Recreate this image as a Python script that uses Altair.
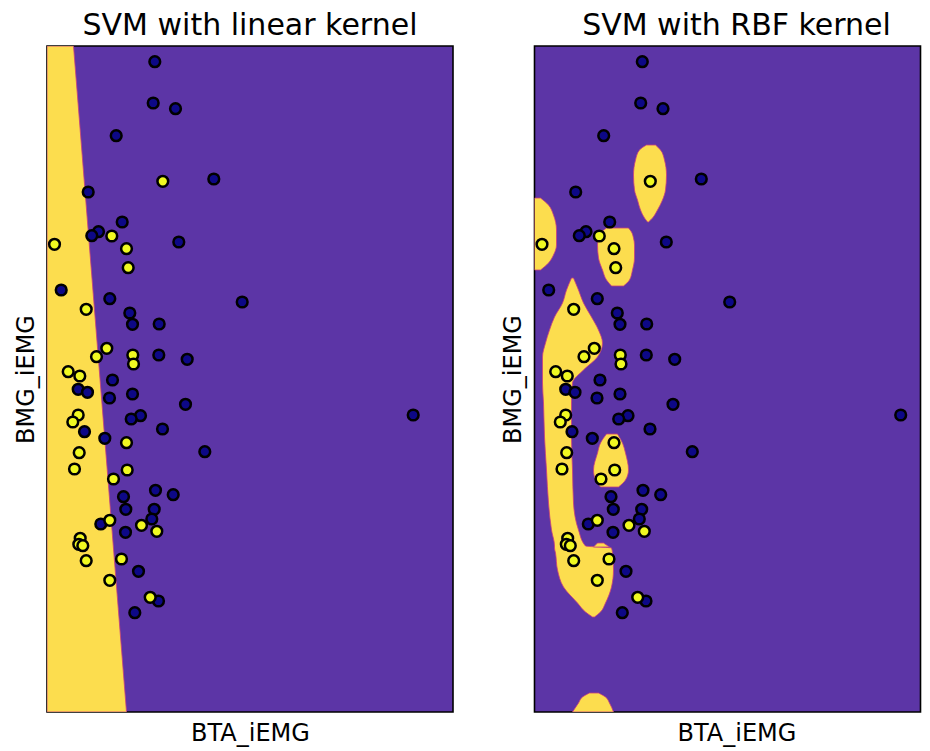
import altair as alt
import pandas as pd

# ---------------- data (units) ----------------
X_MAX_LEFT = 406      # BTA_iEMG range shown in the left panel
X_MAX_RIGHT = 386     # BTA_iEMG range visible in the (cropped) right panel
Y_MAX = 666           # BMG_iEMG range

# class 0 samples (dark)
NAVY_X = [107.8, 106.2, 128.5, 69.2, 166.8, 41.2, 75.2, 51.5, 44.8, 131.8, 14.2,
          62.8, 195.2, 82.8, 85.5, 112.2, 111.8, 140.2, 65.5, 31.2, 40.5, 62.5,
          85.5, 138.5, 93.5, 84.2, 37.5, 115.5, 57.8, 157.8, 108.5, 126.2, 76.5,
          78.8, 107.2, 104.8, 53.8, 78.5, 91.5, 111.5, 87.8, 366.2]
NAVY_Y = [650.3, 609, 603.3, 576.3, 533, 520, 490, 480.3, 476.3, 470, 422,
          413.3, 410, 399, 387.7, 388, 357, 352.7, 332, 322.7, 319.7, 314,
          318, 307.7, 296.3, 293, 280.3, 283, 273.7, 260.3, 221.7, 217.3, 215.3,
          202.7, 202.7, 193, 188, 179.7, 140.7, 111, 99.3, 297]

# class 1 samples (yellow)
YELLOW_X = [115.8, 7.5, 64.8, 79.5, 81.2, 39.2, 59.8, 49.5, 85.8, 86.5, 21.2,
            32.8, 31.2, 25.8, 79.5, 32.2, 27.5, 80.2, 66.5, 62.8, 94.5, 109.8,
            33.2, 31.8, 35.8, 74.5, 39.2, 62.8, 103.2]
YELLOW_Y = [530.7, 467.7, 476, 463.3, 444.3, 402.7, 363.7, 355.3, 357, 348, 340.3,
            336, 297, 290, 269.3, 259.3, 243, 242, 233, 191.7, 186.7, 180.7,
            173.7, 167.7, 166.3, 153, 151.3, 131.7, 114.7]

# linear-kernel decision region (class 1 side): y, left x, right x
LINEAR_Y = [0, 666]
LINEAR_XL = [0, 0]
LINEAR_XR = [79.5, 26.5]

# RBF-kernel decision regions (class 1 blobs): y, left x, right x
BLOB_A_Y = [567, 562, 552, 537, 522, 512, 502, 494, 490]
BLOB_A_XL = [112, 105, 101, 99, 100, 103, 106, 110, 113]
BLOB_A_XR = [121, 126, 130, 132, 131, 128, 123, 118, 114]

BLOB_B_Y = [514, 507, 497, 482, 467, 457, 449, 442]
BLOB_B_XL = [0, 0, 0, 0, 0, 0, 0, 0]
BLOB_B_XR = [6, 14, 19, 22, 22, 19, 14, 6]

BLOB_C_Y = [484, 480, 474, 467, 454, 442, 432, 426]
BLOB_C_XL = [72, 67, 64, 63, 64, 68, 72, 77]
BLOB_C_XR = [94, 97, 99, 100, 100, 98, 95, 89]

BLOB_D_Y = [434, 422, 409, 395, 382, 369, 355, 342, 329, 309, 275, 242, 209,
            182, 166, 164, 159, 142, 125, 109, 100, 95]
BLOB_D_XL = [37, 32, 28, 20, 15, 11, 8, 8, 8, 9, 10, 12, 14, 17, 20, 20, 21,
             23, 29, 43, 51, 58]
BLOB_D_XR = [39, 44, 49, 57, 64, 68, 63, 49, 38, 37, 37, 38, 39, 44, 51, 77,
             78, 79, 77, 71, 66, 60]

BLOB_D2_Y = [169, 165]
BLOB_D2_XL = [63, 59]
BLOB_D2_XR = [69, 75]

BLOB_E_Y = [278, 269, 259, 242, 232, 225]
BLOB_E_XL = [72, 66, 63, 59, 61, 66]
BLOB_E_XR = [83, 88, 91, 94, 91, 84]

BLOB_F_Y = [19, 15, 9, 0]
BLOB_F_XL = [55, 48, 44, 38]
BLOB_F_XR = [64, 71, 75, 79]

# ---------------- styling ----------------
PURPLE = "#5c35a6"
YELLOW_REGION = "#fcdd4e"
EDGE = "#c8407c"
NAVY = "#0d0887"
YELLOW = "#f0f921"
FONT = "DejaVu Sans"

# ---------------- tables ----------------
pts = []
for x, y in zip(NAVY_X, NAVY_Y):
    pts.append({"x": x, "y": y, "cls": "0"})
for x, y in zip(YELLOW_X, YELLOW_Y):
    pts.append({"x": x, "y": y, "cls": "1"})
points_df = pd.DataFrame(pts)
points_df["idx"] = range(len(points_df))


def region_table(blobs):
    rows = []
    for name, ys, xls, xrs in blobs:
        for y, xl, xr in zip(ys, xls, xrs):
            rows.append({"blob": name, "y": y, "xl": xl, "xr": xr})
    return pd.DataFrame(rows)


linear_df = region_table([("lin", LINEAR_Y, LINEAR_XL, LINEAR_XR)])
rbf_df = region_table([
    ("A", BLOB_A_Y, BLOB_A_XL, BLOB_A_XR),
    ("B", BLOB_B_Y, BLOB_B_XL, BLOB_B_XR),
    ("C", BLOB_C_Y, BLOB_C_XL, BLOB_C_XR),
    ("D", BLOB_D_Y, BLOB_D_XL, BLOB_D_XR),
    ("D2", BLOB_D2_Y, BLOB_D2_XL, BLOB_D2_XR),
    ("E", BLOB_E_Y, BLOB_E_XL, BLOB_E_XR),
    ("F", BLOB_F_Y, BLOB_F_XL, BLOB_F_XR),
])


def panel(title, region_df, width, xmax, title_dx, xtitle_x, interp):
    xs = alt.Scale(domain=[0, xmax], nice=False, zero=False)
    ys = alt.Scale(domain=[0, Y_MAX], nice=False, zero=False)
    x_axis_kw = dict(title="BTA_iEMG", labels=False, ticks=False, domain=False,
                     grid=False, titleFontSize=24, titleFont=FONT,
                     titleFontWeight="normal", titleColor="black",
                     titlePadding=9.5)
    if xtitle_x is not None:
        x_axis_kw["titleX"] = xtitle_x
    x_axis = alt.Axis(**x_axis_kw)
    y_axis = alt.Axis(title="BMG_iEMG", labels=False, ticks=False, domain=False,
                      grid=False, titleFontSize=24, titleFont=FONT,
                      titleFontWeight="normal", titleColor="black",
                      titlePadding=9)

    regions = alt.Chart(region_df).mark_area(
        orient="horizontal", color=YELLOW_REGION, opacity=1,
        stroke=EDGE, strokeWidth=0.8, interpolate=interp, clip=True
    ).encode(
        y=alt.Y("y:Q", scale=ys, axis=y_axis),
        x=alt.X("xl:Q", scale=xs, axis=x_axis),
        x2="xr:Q",
        detail="blob:N",
    )

    dots = alt.Chart(points_df).mark_circle(
        size=115, opacity=1, stroke="black", strokeWidth=2.5
    ).encode(
        x=alt.X("x:Q", scale=xs, axis=x_axis),
        y=alt.Y("y:Q", scale=ys, axis=y_axis),
        color=alt.Color("cls:N", scale=alt.Scale(domain=["0", "1"], range=[NAVY, YELLOW]),
                        legend=None),
        order=alt.Order("idx:Q"),
    )

    return alt.layer(regions, dots).properties(
        width=width, height=Y_MAX,
        title=alt.TitleParams(text=title, fontSize=30, font=FONT, fontWeight="normal",
                              color="black", anchor="middle", dx=title_dx,
                              baseline="top", offset=5.5),
    )


left = panel("SVM with linear kernel", linear_df, X_MAX_LEFT, X_MAX_LEFT, 0, None, "linear")
right = panel("SVM with RBF kernel", rbf_df, X_MAX_RIGHT, X_MAX_RIGHT, 9, 202, "monotone")

chart = alt.hconcat(left, right, spacing=46.5).properties(
    padding={"left": 5, "top": 1, "right": 0, "bottom": 0},
    background="white",
).configure_view(fill=PURPLE, stroke="black", strokeWidth=1.6)

chart.save("out.html", embed_options={"renderer": "svg", "actions": False})
